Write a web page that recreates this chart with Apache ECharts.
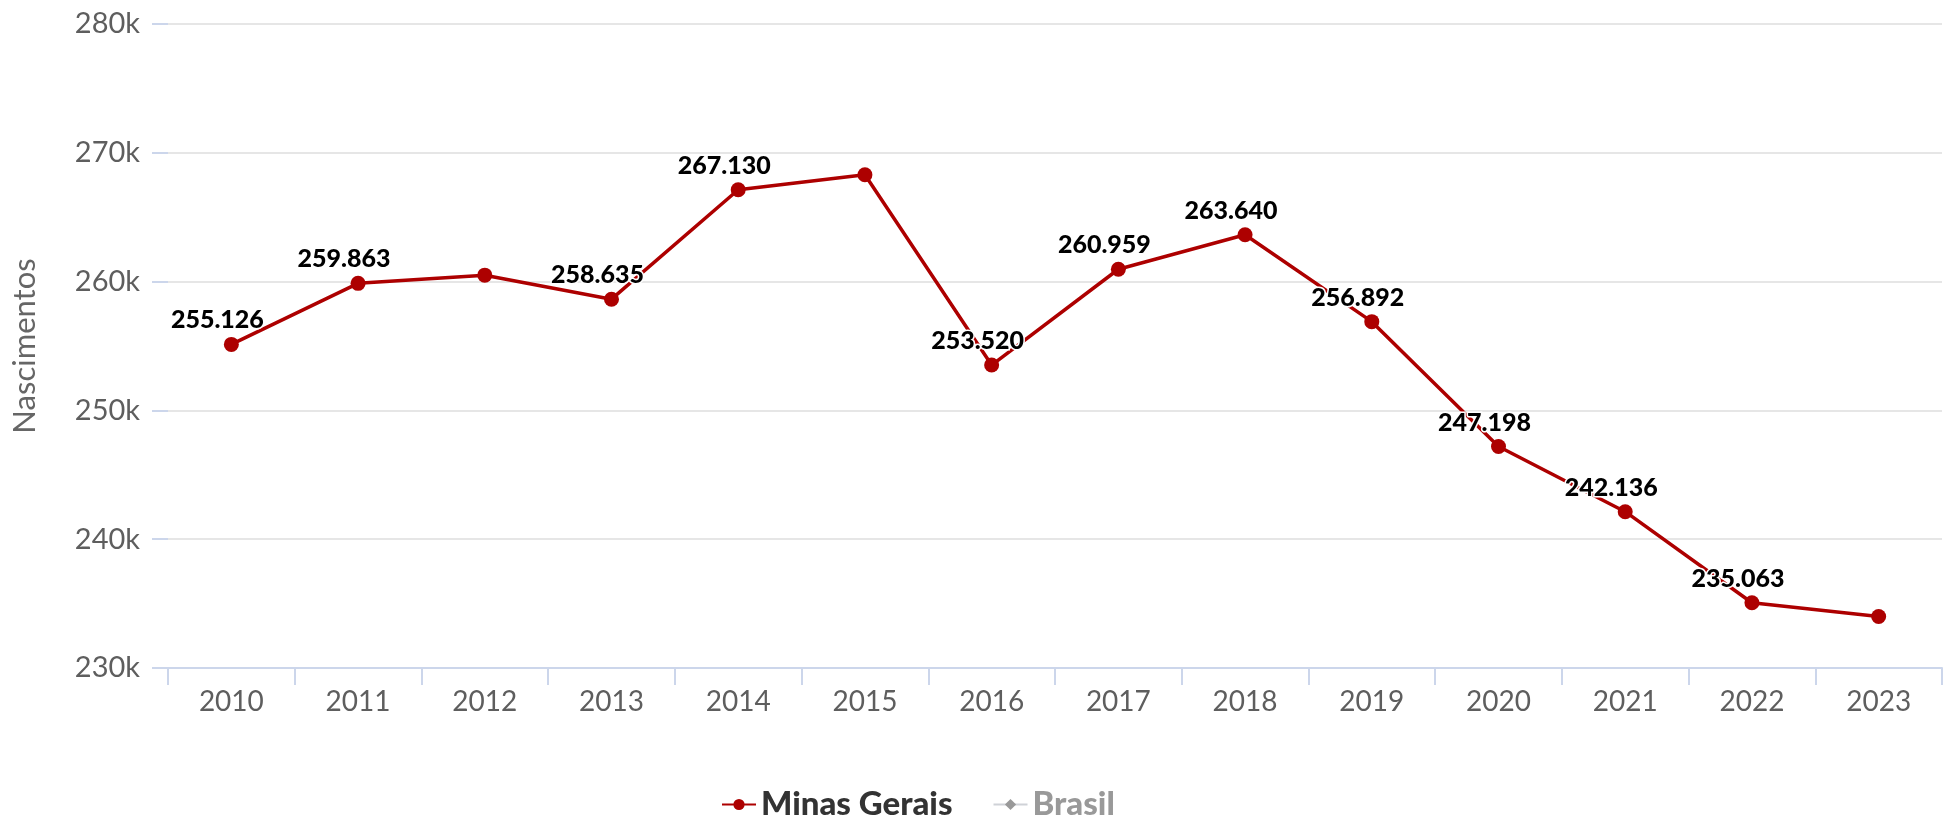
<!DOCTYPE html>
<html>
<head>
<meta charset="utf-8">
<script src="https://cdn.jsdelivr.net/npm/echarts@6/dist/echarts.min.js"></script>
<style>
  html, body { margin: 0; padding: 0; background: #fff; }
  #chart { width: 1944px; height: 822px; }
</style>
</head>
<body>
<div id="chart"></div>
<script>
// anos
const anos = ['2010', '2011', '2012', '2013', '2014', '2015', '2016', '2017', '2018', '2019', '2020', '2021', '2022', '2023'];
// nascimentos em Minas Gerais (2012, 2015 e 2023, sem rótulo)
const minasGerais = [255126, 259863, 260500, 258635, 267130, 268300, 253520, 260959, 263640, 256892, 247198, 242136, 235063, 234000];
const semRotulo = ['2012', '2015', '2023'];
// Brasil aparece só na legenda (desligado)
const brasil = [];
const yTicks = [230000, 240000, 250000, 260000, 270000, 280000];

const fonte = 'Lato, "Open Sans", sans-serif';
const vermelho = '#ad0000';

var chart = echarts.init(document.getElementById('chart'));

const dadosMG = minasGerais.map((v, i) => {
  if (semRotulo.indexOf(anos[i]) >= 0) {
    return { value: v, label: { show: false } };
  }
  return v;
});

chart.setOption({
  animation: false,
  textStyle: { fontFamily: fonte },
  grid: { left: 168, right: 2, top: 24, bottom: 154 },
  legend: {
    left: 716,
    top: 783,
    itemWidth: 34,
    itemHeight: 14,
    itemGap: 40,
    data: ['Minas Gerais', 'Brasil'],
    selected: { 'Brasil': false },
    inactiveColor: '#999',
    textStyle: { fontSize: 33, fontWeight: 900, color: '#333', fontFamily: fonte }
  },
  xAxis: {
    type: 'category',
    data: anos,
    boundaryGap: true,
    axisLine: { lineStyle: { color: '#ccd6eb', width: 2 } },
    axisTick: { show: true, length: 17, lineStyle: { color: '#ccd6eb', width: 2 } },
    axisLabel: { fontSize: 28, color: '#5e5e5e', margin: 20, fontFamily: fonte }
  },
  yAxis: {
    type: 'value',
    min: yTicks[0],
    max: yTicks[yTicks.length - 1],
    interval: 10000,
    name: 'Nascimentos',
    nameLocation: 'middle',
    nameGap: 128,
    nameTextStyle: { fontSize: 31, color: '#666', fontFamily: fonte },
    axisLine: { show: false },
    axisTick: { show: true, length: 16, lineStyle: { color: '#ccd6eb', width: 2 } },
    splitLine: { lineStyle: { color: '#e6e6e6', width: 2 } },
    axisLabel: {
      fontSize: 29,
      color: '#5e5e5e',
      margin: 28,
      fontFamily: fonte,
      formatter: v => (v / 1000) + 'k'
    }
  },
  series: [
    {
      name: 'Minas Gerais',
      type: 'line',
      data: dadosMG,
      symbol: 'circle',
      symbolSize: 15,
      itemStyle: { color: vermelho },
      lineStyle: { color: vermelho, width: 3.5 },
      label: {
        show: true,
        position: 'top',
        offset: [-14, 0],
        distance: 4,
        fontSize: 25,
        fontWeight: 900,
        color: '#000',
        textBorderColor: '#fff',
        textBorderWidth: 3,
        fontFamily: fonte,
        formatter: p => p.value.toLocaleString('pt-BR')
      }
    },
    {
      name: 'Brasil',
      type: 'line',
      data: brasil,
      symbol: 'diamond',
      symbolSize: 10,
      itemStyle: { color: '#888' },
      lineStyle: { color: '#888', width: 3 }
    }
  ]
});
</script>
</body>
</html>
